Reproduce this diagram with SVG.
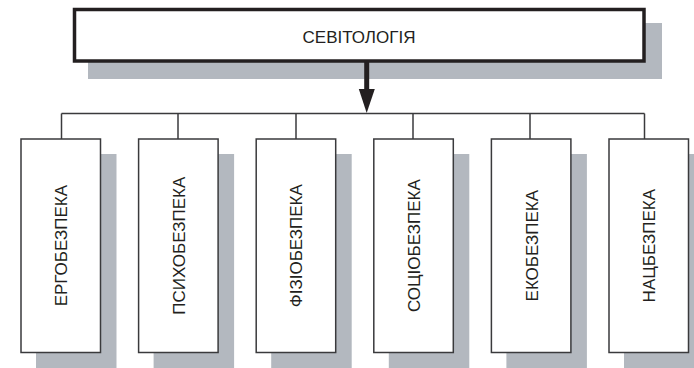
<svg xmlns="http://www.w3.org/2000/svg" width="694" height="368" viewBox="0 0 694 368">
  <defs>
    <style>
      .shadow { fill: #b3b8bf; }
      .box { fill: #ffffff; stroke: #3a3a3c; stroke-width: 1.5; }
      .main { fill: #ffffff; stroke: #231f20; stroke-width: 3.5; }
      .wire { fill: none; stroke: #3a3a3c; stroke-width: 1.5; }
      .label { font-family: "Liberation Sans", Arial, sans-serif; font-size: 17px; fill: #231f20; text-anchor: middle; }
    </style>
  </defs>
  <rect width="694" height="368" fill="#ffffff"/>

  <!-- root node -->
  <g id="node-sevitolohiia">
    <rect class="shadow" x="88" y="23" width="574" height="56"/>
    <rect class="main" x="74.5" y="9.5" width="569.5" height="51.5"/>
    <text class="label" x="359" y="42.5">СЕВІТОЛОГІЯ</text>
  </g>

  <!-- connectors -->
  <g id="connectors">
    <line x1="366.7" y1="62" x2="366.7" y2="92" stroke="#231f20" stroke-width="5"/>
    <polygon points="358.8,89 374.8,89 366.7,113" fill="#231f20"/>
    <line class="wire" x1="61.5" y1="113.5" x2="644.5" y2="113.5"/>
    <line class="wire" x1="61.5" y1="113.5" x2="61.5" y2="139"/>
    <line class="wire" x1="178" y1="113.5" x2="178" y2="139"/>
    <line class="wire" x1="296" y1="113.5" x2="296" y2="139"/>
    <line class="wire" x1="413" y1="113.5" x2="413" y2="139"/>
    <line class="wire" x1="530" y1="113.5" x2="530" y2="139"/>
    <line class="wire" x1="644.5" y1="113.5" x2="644.5" y2="139"/>
  </g>

  <!-- child nodes -->
  <g id="node-erhobezpeka">
    <rect class="shadow" x="36" y="154" width="80.5" height="214"/>
    <rect class="box" x="21" y="139" width="79.5" height="213.5"/>
    <text class="label" transform="translate(67.2,245.7) rotate(-90)">ЕРГОБЕЗПЕКА</text>
  </g>
  <g id="node-psykhobezpeka">
    <rect class="shadow" x="153.6" y="154" width="80.5" height="214"/>
    <rect class="box" x="138.6" y="139" width="79.5" height="213.5"/>
    <text class="label" transform="translate(184.8,245.7) rotate(-90)">ПСИХОБЕЗПЕКА</text>
  </g>
  <g id="node-fiziobezpeka">
    <rect class="shadow" x="271.2" y="154" width="80.5" height="214"/>
    <rect class="box" x="256.2" y="139" width="79.5" height="213.5"/>
    <text class="label" transform="translate(302.4,245.7) rotate(-90)">ФІЗІОБЕЗПЕКА</text>
  </g>
  <g id="node-sotsiobezpeka">
    <rect class="shadow" x="388.8" y="154" width="80.5" height="214"/>
    <rect class="box" x="373.8" y="139" width="79.5" height="213.5"/>
    <text class="label" transform="translate(420,245.7) rotate(-90)">СОЦІОБЕЗПЕКА</text>
  </g>
  <g id="node-ekobezpeka">
    <rect class="shadow" x="506.4" y="154" width="80.5" height="214"/>
    <rect class="box" x="491.4" y="139" width="79.5" height="213.5"/>
    <text class="label" transform="translate(537.6,245.7) rotate(-90)">ЕКОБЕЗПЕКА</text>
  </g>
  <g id="node-natsbezpeka">
    <rect class="shadow" x="624" y="154" width="80.5" height="214"/>
    <rect class="box" x="609" y="139" width="79.5" height="213.5"/>
    <text class="label" transform="translate(655.2,245.7) rotate(-90)">НАЦБЕЗПЕКА</text>
  </g>
</svg>
